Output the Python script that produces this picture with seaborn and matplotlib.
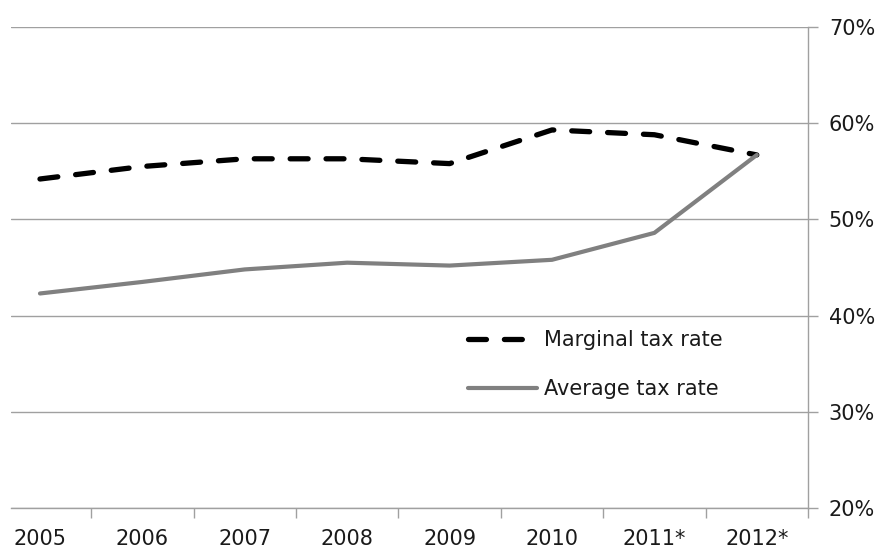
import matplotlib
matplotlib.use("Agg")
import matplotlib.pyplot as plt
import seaborn as sns
import pandas as pd
import numpy as np
from matplotlib.ticker import FixedLocator, FuncFormatter

years = ["2005", "2006", "2007", "2008", "2009", "2010", "2011*", "2012*"]
marginal = [54.2, 55.5, 56.3, 56.3, 55.8, 59.3, 58.8, 56.7]
average = [42.3, 43.5, 44.8, 45.5, 45.2, 45.8, 48.6, 56.7]
y_ticks = [20, 30, 40, 50, 60, 70]

sns.set_theme(style="white")
plt.rcParams['font.family'] = ['DejaVu Sans']

df = pd.DataFrame({
    "pos": list(range(len(years))) * 2,
    "value": marginal + average,
    "series": ["Marginal tax rate"] * len(years) + ["Average tax rate"] * len(years),
})

fig = plt.figure(figsize=(8.77, 5.52), dpi=100)
ax = fig.add_axes([11/877, 44/552, (808-11)/877, (508-27)/552])

sns.lineplot(data=df[df.series == "Marginal tax rate"], x="pos", y="value", ax=ax,
             color="black", lw=3.8, label="Marginal tax rate")
sns.lineplot(data=df[df.series == "Average tax rate"], x="pos", y="value", ax=ax,
             color="#808080", lw=3.0, label="Average tax rate")
ax.lines[0].set_dashes((3.4, 3.4))
ax.lines[0].set_dash_capstyle("round")
ax.lines[1].set_solid_capstyle("round")

ax.set_xlim(-0.283, 7.5)
ax.set_ylim(20, 70)
ax.set_xlabel("")
ax.set_ylabel("")

# y axis on right
ax.yaxis.tick_right()
ax.set_yticks(y_ticks)
ax.yaxis.set_major_formatter(FuncFormatter(lambda v, p: f"{int(v)}%"))
ax.tick_params(axis="y", which="major", right=True, length=7, width=1,
               color="#a0a0a0", labelsize=15, labelcolor="#1a1a1a", pad=8)
ax.grid(axis="y", color="#a0a0a0", lw=1)
ax.set_axisbelow(True)

ax.set_xticks(range(len(years)))
ax.set_xticklabels(years)
ax.xaxis.set_minor_locator(FixedLocator(np.arange(0.5, 8.0, 1.0)))
ax.tick_params(axis="x", which="major", bottom=False, length=0, labelsize=15,
               labelcolor="#1a1a1a", pad=15)
ax.tick_params(axis="x", which="minor", bottom=True, length=7, width=1, color="#a0a0a0")

for s in ["top", "left"]:
    ax.spines[s].set_visible(False)
for s in ["right", "bottom"]:
    ax.spines[s].set_color("#a0a0a0")
    ax.spines[s].set_linewidth(1)

leg = ax.legend(loc="upper left", bbox_to_anchor=((468-11)/797, (508-330)/481),
                frameon=False, fontsize=15, handlelength=3.3, handletextpad=0.35,
                labelspacing=1.4, borderpad=0, borderaxespad=0)
for t in leg.get_texts():
    t.set_color("#1a1a1a")

fig.savefig("out.png", dpi=100)
